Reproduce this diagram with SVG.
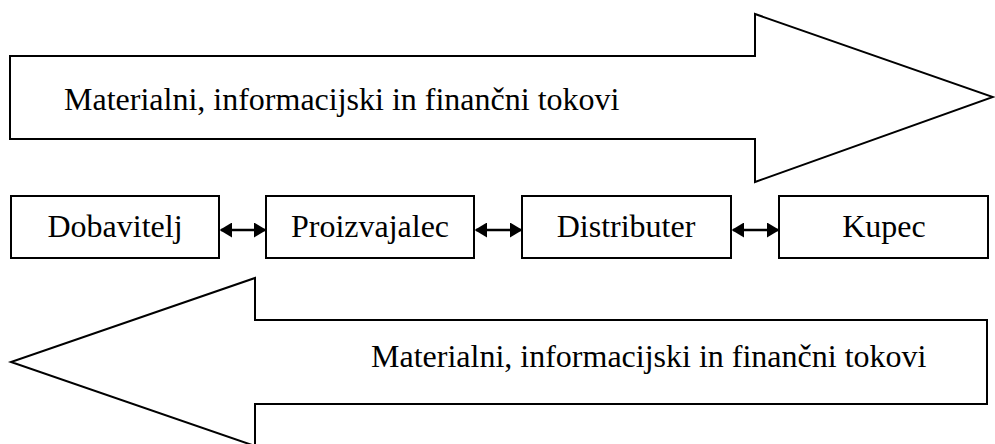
<svg xmlns="http://www.w3.org/2000/svg" width="995" height="444" viewBox="0 0 995 444">
<style>
.shape{fill:#fff;stroke:#000;stroke-width:2;stroke-linejoin:miter}
.lbl{font-family:"Liberation Serif","Times New Roman",serif;font-size:32px;fill:#000}
.conn{stroke:#000;stroke-width:2.5;fill:none}
</style>
<defs>
<marker id="ah" markerWidth="5" markerHeight="6" refX="4.4" refY="3" orient="auto-start-reverse" markerUnits="strokeWidth">
<path d="M0,0 L5,3 L0,6 Z" fill="#000"/>
</marker>
</defs>
<rect width="995" height="444" fill="#fff"/>
<g id="flow-top">
<polygon class="shape" points="10,56 755,56 755,14 993,97 755,182 755,139 10,139"/>
<text class="lbl" x="64" y="110">Materialni, informacijski in finančni tokovi</text>
</g>
<g id="flow-bottom">
<polygon class="shape" points="987,320 255,320 255,278 11,362 255,446 255,404 987,404"/>
<text class="lbl" x="371" y="367">Materialni, informacijski in finančni tokovi</text>
</g>
<g id="dobavitelj">
<rect class="shape" x="11" y="196" width="208" height="62"/>
<text class="lbl" x="115" y="237" text-anchor="middle">Dobavitelj</text>
</g>
<g id="proizvajalec">
<rect class="shape" x="266" y="196" width="208" height="62"/>
<text class="lbl" x="370" y="237" text-anchor="middle">Proizvajalec</text>
</g>
<g id="distributer">
<rect class="shape" x="522" y="196" width="209" height="62"/>
<text class="lbl" x="626" y="237" text-anchor="middle">Distributer</text>
</g>
<g id="kupec">
<rect class="shape" x="779" y="196" width="209" height="62"/>
<text class="lbl" x="884" y="237" text-anchor="middle">Kupec</text>
</g>
<g id="connectors">
<line class="conn" x1="221" y1="230" x2="265" y2="230" marker-start="url(#ah)" marker-end="url(#ah)"/>
<line class="conn" x1="476" y1="230" x2="521" y2="230" marker-start="url(#ah)" marker-end="url(#ah)"/>
<line class="conn" x1="733" y1="230" x2="778" y2="230" marker-start="url(#ah)" marker-end="url(#ah)"/>
</g>
</svg>
